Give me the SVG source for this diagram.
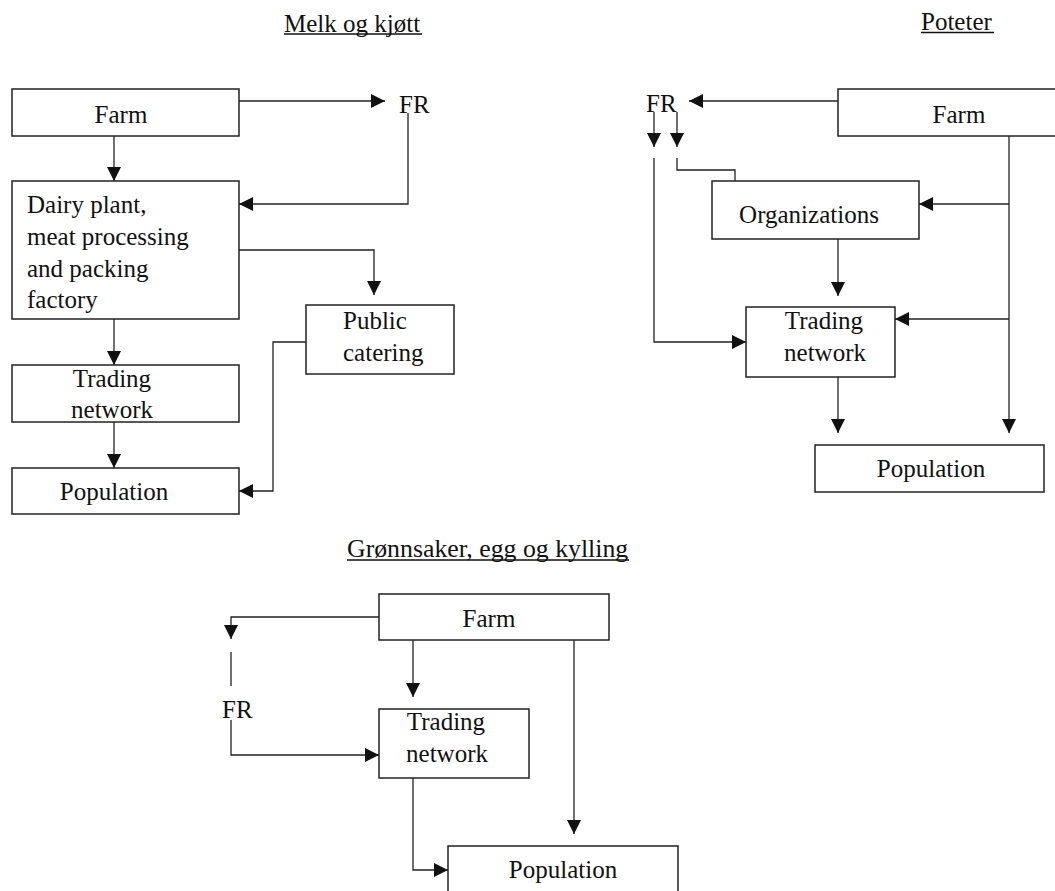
<svg xmlns="http://www.w3.org/2000/svg" width="1055" height="891" viewBox="0 0 1055 891">
  <defs>
    <style>
      .box { fill: #fff; stroke: #222; stroke-width: 1.5; }
      .lbl { font-family: "Liberation Serif", "Times New Roman", serif; font-size: 25px; fill: #111; }
      .mid { text-anchor: middle; }
      .ttl { font-family: "Liberation Serif", "Times New Roman", serif; font-size: 25px; fill: #111; }
      .ul { stroke: #111; stroke-width: 1.6; }
      .wire { fill: none; stroke: #222; stroke-width: 1.3; }
    </style>
    <marker id="arr" markerUnits="userSpaceOnUse" markerWidth="14" markerHeight="14" refX="14" refY="7" orient="auto">
      <path d="M0,0 L14,7 L0,14 z" fill="#111"/>
    </marker>
  </defs>
  <rect width="1055" height="891" fill="#fff"/>

  <!-- section titles -->
  <g id="titles">
    <text class="ttl" x="284" y="31.5">Melk og kjøtt</text>
    <line class="ul" x1="284" y1="34" x2="422" y2="34"/>
    <text class="ttl" x="921" y="30">Poteter</text>
    <line class="ul" x1="921" y1="32.5" x2="994" y2="32.5"/>
    <text class="ttl" x="347" y="557" style="font-size:25.8px">Grønnsaker, egg og kylling</text>
    <line class="ul" x1="347" y1="560" x2="629" y2="560"/>
  </g>

  <!-- Melk og kjøtt -->
  <g id="mk-farm">
    <rect class="box" x="12" y="89" width="227" height="47"/>
    <text class="lbl mid" x="121" y="123">Farm</text>
  </g>
  <g id="mk-fr">
    <text class="lbl" x="399" y="113">FR</text>
  </g>
  <g id="mk-dairy">
    <rect class="box" x="12" y="181" width="227" height="138"/>
    <text class="lbl" x="27" y="213">Dairy plant,</text>
    <text class="lbl" x="27" y="245">meat processing</text>
    <text class="lbl" x="27" y="277">and packing</text>
    <text class="lbl" x="27" y="308">factory</text>
  </g>
  <g id="mk-public">
    <rect class="box" x="306" y="305" width="148" height="69"/>
    <text class="lbl" x="343" y="329">Public</text>
    <text class="lbl" x="343" y="361">catering</text>
  </g>
  <g id="mk-trading">
    <rect class="box" x="12" y="365" width="227" height="57"/>
    <text class="lbl mid" x="112" y="387">Trading</text>
    <text class="lbl mid" x="112" y="418">network</text>
  </g>
  <g id="mk-population">
    <rect class="box" x="12" y="468" width="227" height="46"/>
    <text class="lbl mid" x="114" y="500">Population</text>
  </g>

  <!-- Poteter -->
  <g id="po-farm">
    <rect class="box" x="838" y="89" width="242" height="47"/>
    <text class="lbl mid" x="959" y="123">Farm</text>
  </g>
  <g id="po-fr">
    <text class="lbl" x="646" y="112">FR</text>
  </g>
  <g id="po-org">
    <rect class="box" x="712" y="181" width="207" height="58"/>
    <text class="lbl mid" x="809" y="223">Organizations</text>
  </g>
  <g id="po-trading">
    <rect class="box" x="746" y="307" width="149" height="70"/>
    <text class="lbl mid" x="824" y="329">Trading</text>
    <text class="lbl mid" x="825" y="361">network</text>
  </g>
  <g id="po-population">
    <rect class="box" x="815" y="445" width="229" height="47"/>
    <text class="lbl mid" x="931" y="477">Population</text>
  </g>

  <!-- Grønnsaker, egg og kylling -->
  <g id="gr-farm">
    <rect class="box" x="379" y="594" width="230" height="46"/>
    <text class="lbl mid" x="489" y="627">Farm</text>
  </g>
  <g id="gr-fr">
    <text class="lbl" x="222" y="718">FR</text>
  </g>
  <g id="gr-trading">
    <rect class="box" x="379" y="709" width="150" height="69"/>
    <text class="lbl mid" x="446" y="730">Trading</text>
    <text class="lbl mid" x="447" y="762">network</text>
  </g>
  <g id="gr-population">
    <rect class="box" x="448" y="846" width="230" height="60"/>
    <text class="lbl mid" x="563" y="878">Population</text>
  </g>

  <!-- connectors -->
  <g id="connectors">
    <!-- Melk og kjøtt -->
    <path class="wire" d="M239,101 H385" marker-end="url(#arr)"/>
    <path class="wire" d="M408,113 V204 H239" marker-end="url(#arr)"/>
    <path class="wire" d="M114,136 V181" marker-end="url(#arr)"/>
    <path class="wire" d="M239,250 H374 V295" marker-end="url(#arr)"/>
    <path class="wire" d="M114,319 V365" marker-end="url(#arr)"/>
    <path class="wire" d="M114,422 V468" marker-end="url(#arr)"/>
    <path class="wire" d="M306,342 H273 V491 H239" marker-end="url(#arr)"/>

    <!-- Poteter -->
    <path class="wire" d="M838,101 H689" marker-end="url(#arr)"/>
    <path class="wire" d="M654,112 V147" marker-end="url(#arr)"/>
    <path class="wire" d="M677,112 V147" marker-end="url(#arr)"/>
    <path class="wire" d="M654,158 V342 H746" marker-end="url(#arr)"/>
    <path class="wire" d="M677,158 V170 H735 V181"/>
    <path class="wire" d="M1009,136 V433" marker-end="url(#arr)"/>
    <path class="wire" d="M1009,204 H919" marker-end="url(#arr)"/>
    <path class="wire" d="M1009,319 H895" marker-end="url(#arr)"/>
    <path class="wire" d="M838,239 V296" marker-end="url(#arr)"/>
    <path class="wire" d="M838,377 V433" marker-end="url(#arr)"/>

    <!-- Grønnsaker, egg og kylling -->
    <path class="wire" d="M379,617 H231 V639" marker-end="url(#arr)"/>
    <path class="wire" d="M231,652 V686"/>
    <path class="wire" d="M231,720 V755 H379" marker-end="url(#arr)"/>
    <path class="wire" d="M413,640 V697" marker-end="url(#arr)"/>
    <path class="wire" d="M413,778 V870 H448" marker-end="url(#arr)"/>
    <path class="wire" d="M574,640 V834" marker-end="url(#arr)"/>
  </g>
</svg>
